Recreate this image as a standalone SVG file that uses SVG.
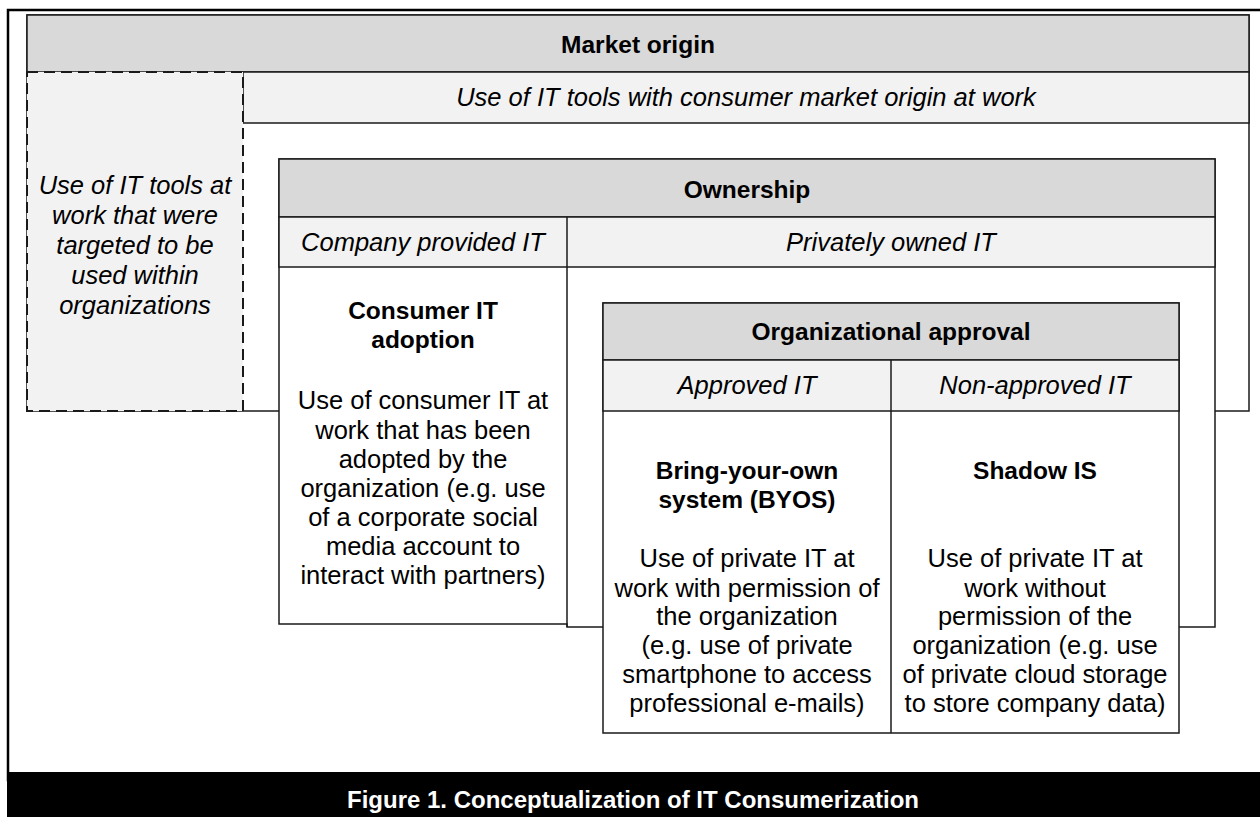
<svg xmlns="http://www.w3.org/2000/svg" width="1260" height="817" viewBox="0 0 1260 817">
<style>
.box{stroke:#1a1a1a;stroke-width:1.5}
.h{fill:#d9d9d9}
.s{fill:#f2f2f2}
.w{fill:#ffffff}
text{font-family:"Liberation Sans",Arial,sans-serif;font-size:25.5px;fill:#000;text-anchor:middle}
.b{font-weight:bold;font-size:24.5px}
.i{font-style:italic}
.cap{fill:#fff;font-weight:bold;font-size:24px}
</style>
<rect x="0" y="0" width="1260" height="817" fill="#fff"/>
<rect x="8" y="10" width="1262" height="770" fill="#fff" stroke="#000" stroke-width="2.5"/>
<g id="market-origin">
<rect class="box w" x="27" y="15" width="1222" height="396"/>
<rect class="box h" x="27" y="15" width="1222" height="57"/>
<rect class="box s" x="243" y="72" width="1006" height="51"/>
<text class="b" x="638" y="53">Market origin</text>
<text class="i" x="746" y="106">Use of IT tools with consumer market origin at work</text>
</g>
<g id="organizational-tools">
<rect x="27" y="72" width="216" height="339" fill="#f2f2f2" stroke="#1a1a1a" stroke-width="2" stroke-dasharray="11,6"/>
<text class="i" x="135" y="194">Use of IT tools at</text>
<text class="i" x="135" y="224">work that were</text>
<text class="i" x="135" y="254">targeted to be</text>
<text class="i" x="135" y="284">used within</text>
<text class="i" x="135" y="314">organizations</text>
</g>
<g id="ownership">
<path class="box w" d="M279,159 H1215 V627 H567 V624 H279 Z"/>
<rect class="box h" x="279" y="159" width="936" height="58"/>
<rect class="box s" x="279" y="217" width="936" height="50"/>
<line class="box" x1="567" y1="217" x2="567" y2="627"/>
<text class="b" x="747" y="198">Ownership</text>
<text class="i" x="423" y="251">Company provided IT</text>
<text class="i" x="891" y="251">Privately owned IT</text>
</g>
<g id="consumer-it-adoption">
<text class="b" x="423" y="319">Consumer IT</text>
<text class="b" x="423" y="348">adoption</text>
<text x="423" y="409">Use of consumer IT at</text>
<text x="423" y="439">work that has been</text>
<text x="423" y="468">adopted by the</text>
<text x="423" y="497">organization (e.g. use</text>
<text x="423" y="526">of a corporate social</text>
<text x="423" y="555">media account to</text>
<text x="423" y="584">interact with partners)</text>
</g>
<g id="organizational-approval">
<rect class="box w" x="603" y="303" width="576" height="430"/>
<rect class="box h" x="603" y="303" width="576" height="57"/>
<rect class="box s" x="603" y="360" width="576" height="51"/>
<line class="box" x1="891" y1="360" x2="891" y2="733"/>
<text class="b" x="891" y="340">Organizational approval</text>
<text class="i" x="747" y="394">Approved IT</text>
<text class="i" x="1035" y="394">Non-approved IT</text>
</g>
<g id="byos">
<text class="b" x="747" y="479">Bring-your-own</text>
<text class="b" x="747" y="508">system (BYOS)</text>
<text x="747" y="567">Use of private IT at</text>
<text x="747" y="597">work with permission of</text>
<text x="747" y="625">the organization</text>
<text x="747" y="654">(e.g. use of private</text>
<text x="747" y="683">smartphone to access</text>
<text x="747" y="712">professional e-mails)</text>
</g>
<g id="shadow-is">
<text class="b" x="1035" y="479">Shadow IS</text>
<text x="1035" y="567">Use of private IT at</text>
<text x="1035" y="597">work without</text>
<text x="1035" y="625">permission of the</text>
<text x="1035" y="654">organization (e.g. use</text>
<text x="1035" y="683">of private cloud storage</text>
<text x="1035" y="712">to store company data)</text>
</g>
<g id="connectors"></g>
<g id="caption">
<rect x="7" y="772" width="1253" height="45" fill="#000"/>
<text class="cap" x="633" y="808">Figure 1. Conceptualization of IT Consumerization</text>
</g>
</svg>
